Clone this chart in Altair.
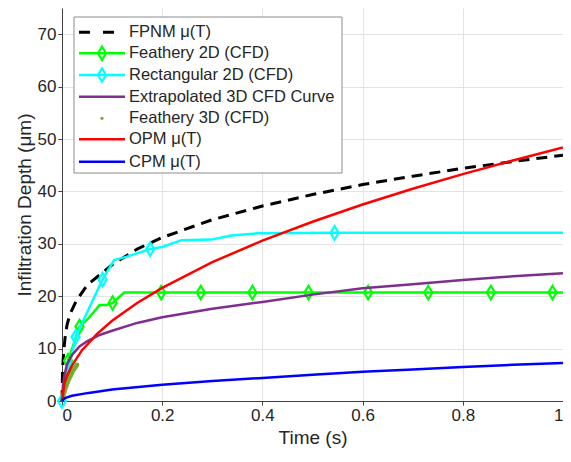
import altair as alt
import pandas as pd

# ---------------- data ----------------
fpnm_t = [0, 0.001, 0.003, 0.006, 0.01, 0.016, 0.029, 0.05, 0.1, 0.15, 0.2, 0.3, 0.4, 0.5, 0.6, 0.7, 0.8, 0.9, 1.0]
fpnm_v = [0, 5.5, 9.0, 12.0, 14.5, 16.6, 19.2, 22.1, 26.0, 29.0, 31.2, 34.6, 37.2, 39.4, 41.3, 42.9, 44.4, 45.7, 46.9]

f2d_t = [0, 0.012, 0.035, 0.052, 0.075, 0.088, 0.101, 0.124, 0.198, 0.277, 0.380, 0.492, 0.611, 0.731, 0.856, 0.979, 1.0]
f2d_v = [0, 7.7, 14.2, 15.7, 18.3, 18.3, 18.7, 20.7, 20.7, 20.7, 20.7, 20.7, 20.7, 20.7, 20.7, 20.7, 20.7]
f2d_mk_t = [0.012, 0.035, 0.101, 0.198, 0.277, 0.380, 0.492, 0.611, 0.731, 0.856, 0.979]
f2d_mk_v = [7.7, 14.2, 18.7, 20.7, 20.7, 20.7, 20.7, 20.7, 20.7, 20.7, 20.7]

r2d_t = [0, 0.027, 0.081, 0.104, 0.128, 0.176, 0.2, 0.239, 0.298, 0.338, 0.39, 0.544, 1.0]
r2d_v = [0, 12.2, 23.2, 26.9, 27.5, 29.0, 29.4, 30.7, 30.8, 31.6, 32.0, 32.1, 32.1]
r2d_mk_t = [0, 0.027, 0.081, 0.176, 0.544]
r2d_mk_v = [0, 12.2, 23.2, 29.0, 32.1]

ext_t = [0, 0.002, 0.005, 0.01, 0.02, 0.035, 0.05, 0.075, 0.1, 0.15, 0.2, 0.3, 0.4, 0.5, 0.6, 0.7, 0.8, 0.9, 1.0]
ext_v = [0, 3.0, 5.0, 7.0, 8.8, 10.4, 11.4, 12.6, 13.4, 14.9, 16.0, 17.6, 18.9, 20.3, 21.5, 22.3, 23.1, 23.8, 24.4]

f3d_t = [0.0015, 0.003, 0.0045, 0.006, 0.0075, 0.009, 0.0105, 0.012, 0.0135, 0.015,
         0.0165, 0.018, 0.0195, 0.021, 0.0225, 0.024, 0.0255, 0.027, 0.0285, 0.03]
f3d_v = [0.6, 1.1, 1.6, 2.1, 2.6, 3.0, 3.4, 3.8, 4.1, 4.4,
         4.7, 5.0, 5.3, 5.6, 5.9, 6.1, 6.3, 6.5, 6.7, 6.9]

opm_t = [0, 0.005, 0.01, 0.02, 0.04, 0.07, 0.1, 0.15, 0.2, 0.3, 0.4, 0.5, 0.6, 0.7, 0.8, 0.9, 1.0]
opm_v = [0, 3.4, 4.8, 6.8, 9.7, 12.8, 15.3, 18.7, 21.6, 26.5, 30.6, 34.2, 37.5, 40.5, 43.3, 45.9, 48.4]

cpm_t = [0, 0.005, 0.01, 0.02, 0.05, 0.1, 0.2, 0.3, 0.4, 0.5, 0.6, 0.7, 0.8, 0.9, 1.0]
cpm_v = [0, 0.5, 0.7, 1.0, 1.5, 2.2, 3.1, 3.8, 4.4, 5.0, 5.6, 6.0, 6.5, 6.9, 7.25]

legend_labels = ["FPNM μ(T)", "Feathery 2D (CFD)", "Rectangular 2D (CFD)",
                 "Extrapolated 3D CFD Curve", "Feathery 3D (CFD)", "OPM μ(T)", "CPM μ(T)"]
x_ticks = [0, 0.2, 0.4, 0.6, 0.8, 1.0]
y_ticks = [0, 10, 20, 30, 40, 50, 60, 70]

# ---------------- styling ----------------
FONT = "Liberation Sans"
TXT = "#262626"
BLACK, GREEN, CYAN = "#000000", "#00FF00", "#00FFFF"
PURPLE, OLIVE, RED, BLUE = "#7E2F8E", "#77AC30", "#FF0000", "#0000FF"
DIAMOND = "M0,-1L0.6,0L0,1L-0.6,0Z"

W, H = 501, 393

xscale = alt.Scale(domain=[0, 1], nice=False, zero=False)
yscale = alt.Scale(domain=[0, 75], nice=False, zero=False)

X = alt.X("t:Q", scale=xscale,
          axis=alt.Axis(values=x_ticks, format="~g", title="Time (s)", grid=True))
Y = alt.Y("v:Q", scale=yscale,
          axis=alt.Axis(values=y_ticks, title="Infiltration Depth (μm)", grid=True))


def df(t, v):
    return pd.DataFrame({"t": t, "v": v})


def line(t, v, color, width=2.5, dash=None):
    kw = dict(color=color, strokeWidth=width, clip=False)
    if dash:
        kw["strokeDash"] = dash
    return alt.Chart(df(t, v)).mark_line(**kw).encode(x=X, y=Y)


def diamonds(t, v, color):
    return alt.Chart(df(t, v)).mark_point(
        shape=DIAMOND, size=180, filled=False, color=color, strokeWidth=2.2, opacity=1
    ).encode(x=X, y=Y)


layers = [
    line(fpnm_t, fpnm_v, BLACK, width=3, dash=[11, 7]),
    line(f2d_t, f2d_v, GREEN),
    diamonds(f2d_mk_t, f2d_mk_v, GREEN),
    line(r2d_t, r2d_v, CYAN),
    diamonds(r2d_mk_t, r2d_mk_v, CYAN),
    line(ext_t, ext_v, PURPLE),
    alt.Chart(df(f3d_t, f3d_v)).mark_circle(size=22, color=OLIVE, opacity=1).encode(x=X, y=Y),
    line(opm_t, opm_v, RED),
    line(cpm_t, cpm_v, BLUE),
]

# ---------------- legend box (drawn inside the plot) ----------------
one = pd.DataFrame({"a": [0]})
leg_x0, leg_x1, leg_y0, leg_y1 = 12, 280, 9, 165
row_y = [24.3, 45.3, 67.0, 88.7, 110.3, 131.3, 153.7]
sx0, sx1, smid, tx = 17, 63, 40, 67

layers.append(
    alt.Chart(one).mark_rect(fill="white", stroke="#8c8c8c", strokeWidth=1).encode(
        x=alt.value(leg_x0), x2=alt.value(leg_x1), y=alt.value(leg_y0), y2=alt.value(leg_y1)
    )
)
styles = [
    (BLACK, "dash"), (GREEN, "diamond"), (CYAN, "diamond"), (PURPLE, "line"),
    (OLIVE, "dot"), (RED, "line"), (BLUE, "line"),
]
for (col, kind), yy, lab in zip(styles, row_y, legend_labels):
    if kind == "dash":
        layers.append(alt.Chart(one).mark_rule(color=col, strokeWidth=3, strokeDash=[11, 13]).encode(
            x=alt.value(sx0), x2=alt.value(sx1 - 1), y=alt.value(yy)))
    elif kind in ("diamond", "line"):
        layers.append(alt.Chart(one).mark_rule(color=col, strokeWidth=2.5).encode(
            x=alt.value(sx0), x2=alt.value(sx1), y=alt.value(yy)))
    if kind == "diamond":
        layers.append(alt.Chart(one).mark_point(
            shape=DIAMOND, size=180, filled=False, color=col, strokeWidth=2.2, opacity=1
        ).encode(x=alt.value(smid), y=alt.value(yy)))
    if kind == "dot":
        layers.append(alt.Chart(one).mark_circle(size=10, color=col, opacity=1).encode(
            x=alt.value(smid), y=alt.value(yy)))
    layers.append(alt.Chart(one).mark_text(
        text=lab, align="left", baseline="middle", font=FONT, fontSize=16.5, color=TXT
    ).encode(x=alt.value(tx), y=alt.value(yy)))

chart = alt.layer(*layers).properties(
    width=W, height=H,
    autosize=alt.AutoSizeParams(type="none"),
    padding={"left": 54, "top": 0, "right": 0, "bottom": 52},
).configure_view(stroke=None).configure_axis(
    labelFont=FONT, titleFont=FONT, labelFontSize=17, titleFontSize=19,
    labelColor=TXT, titleColor=TXT, titleFontWeight="normal",
    domainColor="#404040", domainWidth=1, tickColor="#404040", tickSize=4,
    gridColor="#E3E3E3", gridWidth=1, labelPadding=2,
).configure_axisX(titlePadding=5).configure_axisY(titlePadding=3)

chart.save("out.html", embed_options={"renderer": "svg", "actions": False})
